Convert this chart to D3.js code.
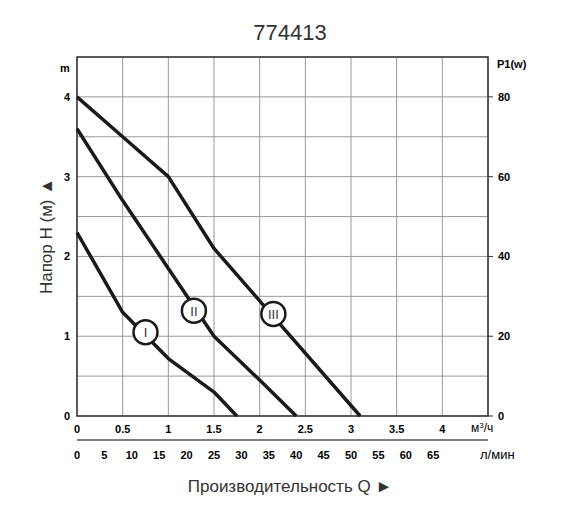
<!DOCTYPE html><html><head><meta charset="utf-8"><script src="https://cdn.jsdelivr.net/npm/d3@7"></script>
<style>body{margin:0;background:#fff}</style></head><body><svg id="c" width="580" height="516"></svg>
<script>
const curveI=[[0,2.3],[0.5,1.3],[1,0.72],[1.5,0.3],[1.75,0]];
const curveII=[[0,3.6],[0.5,2.7],[1,1.85],[1.5,1.0],[2,0.45],[2.4,0]];
const curveIII=[[0,4],[0.5,3.5],[1,3],[1.5,2.1],[3.1,0]];
const labels=[["I",0.75,1.05],["II",1.28,1.32],["III",2.15,1.28]];
const qTicks=[0,0.5,1,1.5,2,2.5,3,3.5,4];
const hTicks=[0,1,2,3,4];
const pTicks=[0,20,40,60,80];
const lTicks=[0,5,10,15,20,25,30,35,40,45,50,55,60,65];
const svg=d3.select("#c");
const L=77,R=488,T=57,B=416;
const x=d3.scaleLinear().domain([0,4.5]).range([L,R]);
const y=d3.scaleLinear().domain([0,4.5]).range([B,T]);
const yp=d3.scaleLinear().domain([0,90]).range([B,T]);
const xl=d3.scaleLinear().domain([0,4.5*1000/60]).range([L,R]);
const g=svg.append("g");
d3.range(0,4.51,0.5).forEach(v=>{
 g.append("line").attr("x1",x(v)).attr("x2",x(v)).attr("y1",T).attr("y2",B).attr("stroke","#999");
 g.append("line").attr("y1",y(v)).attr("y2",y(v)).attr("x1",L).attr("x2",R).attr("stroke","#999");
});
g.append("rect").attr("x",L).attr("y",T).attr("width",R-L).attr("height",B-T).attr("fill","none").attr("stroke","#333").attr("stroke-width",1.5);
const fb="font-family:Arial,'Liberation Sans',sans-serif;font-weight:bold;font-size:11px";
hTicks.forEach(v=>g.append("text").attr("x",L-7).attr("y",y(v)+4).attr("text-anchor","end").attr("style",fb).text(v));
pTicks.forEach(v=>{g.append("text").attr("x",R+10).attr("y",yp(v)+4).attr("style",fb).text(v);
 g.append("line").attr("x1",R).attr("x2",R+5).attr("y1",yp(v)).attr("y2",yp(v)).attr("stroke","#333")});
qTicks.forEach(v=>g.append("text").attr("x",x(v)).attr("y",433).attr("text-anchor","middle").attr("style",fb).text(v));
g.append("line").attr("x1",L).attr("x2",R).attr("y1",440).attr("y2",440).attr("stroke","#555").attr("stroke-width",1.5);
lTicks.forEach(v=>g.append("text").attr("x",xl(v)).attr("y",459).attr("text-anchor","middle").attr("style",fb).text(v));
g.append("text").attr("x",60).attr("y",72).attr("style",fb).text("m");
g.append("text").attr("x",497).attr("y",68).attr("style",fb).text("P1(w)");
g.append("text").attr("x",471).attr("y",432).attr("style","font-family:Arial,sans-serif;font-size:12px").html("м<tspan dy='-4' font-size='8'>3</tspan><tspan dy='4'>/ч</tspan>");
g.append("text").attr("x",480).attr("y",459).attr("style","font-family:Arial,sans-serif;font-size:13px").text("л/мин");
svg.append("text").attr("x",290).attr("y",40).attr("text-anchor","middle").attr("style","font-family:Arial,sans-serif;font-size:22px").attr("fill","#333").text("774413");
svg.append("text").attr("transform","translate(52,236) rotate(-90)").attr("text-anchor","middle").attr("style","font-family:Arial,sans-serif;font-size:17px").attr("fill","#333").text("Напор H (м) ▲");
svg.append("text").attr("x",290).attr("y",492).attr("text-anchor","middle").attr("style","font-family:Arial,sans-serif;font-size:17px").attr("fill","#333").text("Производительность Q ►");
const line=d3.line().x(d=>x(d[0])).y(d=>y(d[1]));
[curveI,curveII,curveIII].forEach(c=>svg.append("path").attr("d",line(c)).attr("fill","none").attr("stroke","#1a1a1a").attr("stroke-width",3.5).attr("stroke-linejoin","round"));
labels.forEach(([t,a,b])=>{svg.append("circle").attr("cx",x(a)).attr("cy",y(b)).attr("r",12).attr("fill","#fff").attr("stroke","#1a1a1a").attr("stroke-width",2.5);
 svg.append("text").attr("x",x(a)).attr("y",y(b)+5).attr("text-anchor","middle").attr("style","font-family:Arial,sans-serif;font-size:13px").attr("fill","#333").text(t);});
</script></body></html>
